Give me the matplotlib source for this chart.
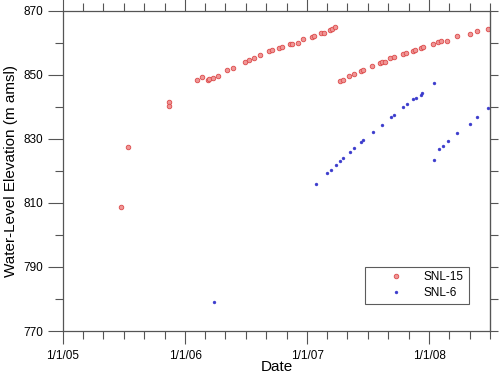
import matplotlib
matplotlib.use('Agg')
import matplotlib.pyplot as plt
import matplotlib.dates as mdates
import matplotlib.ticker as mticker
import pandas as pd


# days since 1/1/05 and water-level elevation (m amsl)
BASE_DATE = '2005-01-01'

snl15_days = [173, 194, 316, 318,
              400, 417, 433, 438, 450, 465, 490, 507, 543, 557, 572, 590,
              617, 625, 647, 655, 678, 686, 704, 718, 745, 752, 771, 781,
              799, 805, 814,
              827, 837, 856, 869, 891, 897, 924, 947, 955, 964, 979, 989,
              1017, 1026, 1047, 1053, 1072, 1076, 1107, 1121, 1131, 1149,
              1179, 1216, 1237, 1270]
snl15_elev = [808.8, 827.4, 841.6, 840.4,
              848.4, 849.3, 848.4, 848.8, 849.2, 849.6, 851.6, 852.2, 854.0,
              854.7, 855.2, 856.2, 857.5, 857.8, 858.5, 858.8, 859.7, 859.7,
              860.0, 861.2, 862.0, 862.2, 863.1, 863.2, 864.1, 864.3, 864.9,
              848.2, 848.4, 849.8, 850.4, 851.3, 851.7, 852.8, 853.8, 854.1,
              854.2, 855.2, 855.5, 856.7, 857.0, 857.5, 857.8, 858.5, 858.6,
              859.8, 860.3, 860.5, 860.7, 862.1, 862.9, 863.8, 864.4]

snl6_days = [451,
             757, 789, 800, 815, 827, 836, 859, 871, 892, 897, 926, 954,
             982, 989, 1017, 1028, 1047, 1056, 1070, 1074, 1109,
             1110, 1125, 1137, 1151, 1179, 1216, 1237, 1272]
snl6_elev = [779.2,
             815.9, 819.3, 820.3, 821.9, 823.0, 823.9, 825.9, 827.2, 829.1,
             829.7, 832.1, 834.5, 836.8, 837.5, 839.9, 840.8, 842.4, 842.7,
             843.8, 844.5, 847.4,
             823.3, 826.8, 827.9, 829.5, 832.0, 834.7, 837.0, 839.6]

X_RANGE = ('2005-01-01', '2008-07-01')
Y_RANGE = (770, 870)
Y_LABELED = [770, 790, 810, 830, 850, 870]


def to_dates(days):
    return pd.Timestamp(BASE_DATE) + pd.to_timedelta(days, unit='D')


def date_label(x, pos=None):
    d = mdates.num2date(x)
    return f'{d.month}/{d.day}/{d.strftime("%y")}'


def main():
    plt.rcParams['font.family'] = ['Liberation Sans', 'DejaVu Sans']
    fig = plt.figure(figsize=(5, 3.77), dpi=100)
    ax = fig.add_axes([0.126, 0.122, 0.854, 0.849])

    ax.plot(to_dates(snl15_days), snl15_elev, linestyle='none', marker='o',
            ms=3.3, mfc='#f09696', mec='#dc4a4a', mew=0.6, label='SNL-15')
    ax.plot(to_dates(snl6_days), snl6_elev, linestyle='none', marker='o',
            ms=2.1, mfc='#3a3acc', mec='#3a3acc', mew=0.3, label='SNL-6')

    ax.set_xlim(pd.Timestamp(X_RANGE[0]), pd.Timestamp(X_RANGE[1]))
    ax.set_ylim(*Y_RANGE)

    ax.xaxis.set_major_locator(mdates.YearLocator())
    ax.xaxis.set_minor_locator(mdates.MonthLocator(bymonth=[3, 5, 7, 9, 11]))
    ax.xaxis.set_major_formatter(mticker.FuncFormatter(date_label))
    ax.yaxis.set_major_locator(mticker.FixedLocator(Y_LABELED))
    ax.yaxis.set_minor_locator(mticker.FixedLocator([v + 10 for v in Y_LABELED[:-1]]))

    edge = '#555555'
    for s in ax.spines.values():
        s.set_color(edge)
        s.set_linewidth(0.9)
    ax.tick_params(axis='x', which='both', direction='out', top=True,
                   color=edge, width=0.8, labelsize=8.5, pad=5)
    ax.tick_params(axis='x', which='major', length=9)
    ax.tick_params(axis='x', which='minor', length=6)
    ax.tick_params(axis='y', which='both', direction='out', right=False,
                   color=edge, width=0.8, labelsize=8.5, pad=3)
    ax.tick_params(axis='y', which='major', length=11)
    ax.tick_params(axis='y', which='minor', length=6)

    sec = ax.secondary_yaxis('right')
    sec.yaxis.set_major_locator(mticker.MultipleLocator(10))
    sec.tick_params(direction='out', length=6, width=0.8, color=edge,
                    labelright=False)
    sec.spines['right'].set_color(edge)

    ax.set_xlabel('Date', fontsize=11, labelpad=-2)
    ax.set_ylabel('Water-Level Elevation (m amsl)', fontsize=11, labelpad=4)

    leg = ax.legend(loc='lower left', bbox_to_anchor=(0.707, 0.084),
                    fontsize=8.5, frameon=True, fancybox=False,
                    handlelength=4.4, handletextpad=0.2, borderpad=0.4,
                    labelspacing=0.35, borderaxespad=0)
    leg.get_frame().set_edgecolor('#333333')
    leg.get_frame().set_linewidth(0.8)

    fig.savefig('out.png', dpi=100)


if __name__ == '__main__':
    main()
